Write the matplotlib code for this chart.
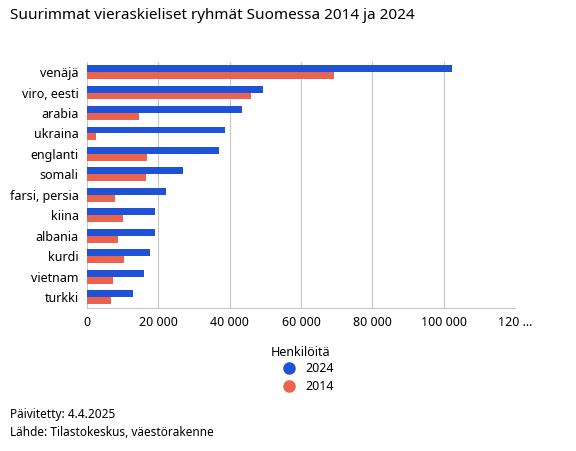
import matplotlib
matplotlib.use("Agg")
import matplotlib.pyplot as plt
from matplotlib.lines import Line2D
import numpy as np

plt.rcParams['font.family'] = ['Noto Sans', 'DejaVu Sans']

categories = ["venäjä", "viro, eesti", "arabia", "ukraina", "englanti", "somali",
              "farsi, persia", "kiina", "albania", "kurdi", "vietnam", "turkki"]
v2024 = [102400, 49400, 43400, 38800, 36900, 26800, 22200, 19200, 19000, 17800, 16000, 12900]
v2014 = [69400, 46000, 14600, 2400, 16700, 16500, 7900, 10000, 8700, 10500, 7400, 6700]
xticks = [0, 20000, 40000, 60000, 80000, 100000, 120000]
xticklabels = ["0", "20 000", "40 000", "60 000", "80 000", "100 000", "120 ..."]

blue = "#1f52d6"
red = "#e9634f"

fig = plt.figure(figsize=(5.76, 4.51), dpi=100)
ax = fig.add_axes([0.151, 0.318, 0.743, 0.545])
y = np.arange(len(categories))
h = 0.34
ax.barh(y - h/2, v2024, height=h, color=blue, zorder=3)
ax.barh(y + h/2, v2014, height=h, color=red, zorder=3)
ax.set_ylim(len(categories) - 0.5, -0.5)
ax.set_xlim(0, 120000)
ax.set_yticks(y)
ax.set_yticklabels(categories, fontsize=9)
ax.set_xticks(xticks)
ax.set_xticklabels(xticklabels, fontsize=9)
ax.tick_params(length=0, pad=6)
ax.grid(axis='x', color='#c8c8c8', linewidth=0.8, zorder=0)
for s in ["top", "right"]:
    ax.spines[s].set_visible(False)
for s in ["left", "bottom"]:
    ax.spines[s].set_color('#c8c8c8')
ax.set_xlabel("Henkilöitä", fontsize=9, labelpad=12)

fig.text(0.017, 0.965, "Suurimmat vieraskieliset ryhmät Suomessa 2014 ja 2024", fontsize=11, va='center')
mk = [Line2D([], [], marker='o', linestyle='', color=blue, markersize=8),
      Line2D([], [], marker='o', linestyle='', color=red, markersize=8)]
fig.legend(mk, ["2024", "2014"], loc='center', bbox_to_anchor=(0.53, 0.162), frameon=False,
           fontsize=9, handletextpad=0.3, labelspacing=0.4)
fig.text(0.017, 0.08, "Päivitetty: 4.4.2025", fontsize=8.5, va='center')
fig.text(0.017, 0.042, "Lähde: Tilastokeskus, väestörakenne", fontsize=8.5, va='center')
fig.savefig("out.png", dpi=100)
